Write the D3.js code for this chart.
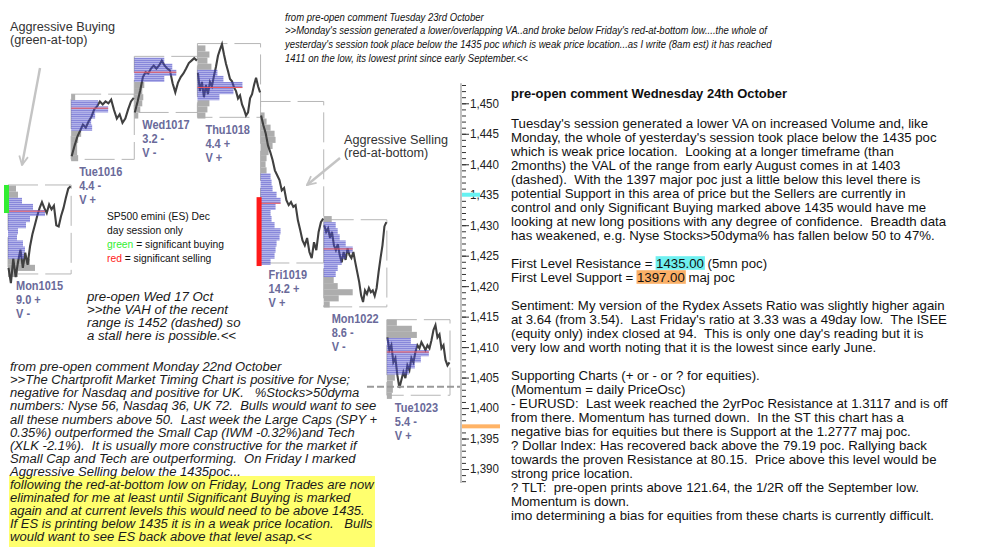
<!DOCTYPE html>
<html><head><meta charset="utf-8">
<script src="https://cdn.jsdelivr.net/npm/d3@7/dist/d3.min.js"></script>
<style>body{margin:0;background:#fff}text{white-space:pre}</style>
</head><body>
<svg id="c" width="999" height="559"></svg>
<script>
// ---------------- DATA ----------------
const days = ["Mon1015","Tue1016","Wed1017","Thu1018","Fri1019","Mon1022","Tue1023"];
const dayRange = ["9.0 +","4.4 -","3.2 -","4.4 +","14.2 +","8.6 -","5.4 -"];
const dayVolume = ["V -","V +","V -","V +","V +","V -","V +"];
const dayHigh = [1436.6,1451.5,1457.7,1459.8,1450.3,1430.9,1414.5];
const dayLow  = [1422.0,1440.8,1448.5,1447.7,1423.8,1416.6,1402.1];
const dayPoc  = [1432.3,1449.2,1455.1,1452.6,1433.6,1426.1,1409.2];
const dayVAH  = [1434,1450,1457,1455,1438,1430,1411];
const dayVAL  = [1425,1446,1454,1451,1424,1422,1406];
// volume profile per day: top price level, then volume per 1-pt level going down
const profTop = [1436,1451,1457,1459,1448,1431,1414];
const profMon1015 = [8,10,14,25,37,22,18,10,9,15,17,16,22,27,10];
const profTue1016 = [4,27,37,24,20,21,10,7,6,6,7];
const profWed1017 = [30,38,42,30,10,8,9,8,6,4];
const profThu1018 = [8,12,10,14,20,26,45,36,22,12,10,8];
const profFri1019 = [4,6,10,14,15,12,8,6,5,6,10,11,12,16,20,15,10,11,14,20,19,16,15,14,10];
const profMon1022 = [8,12,14,16,22,29,22,18,14,12,10,14,29,15,6];
const profTue1023 = [10,25,30,24,30,42,34,28,22,8,6,6,5];
// intraday price traces (evenly spaced through each session)
const pxMon1015 = [1423.0,1420.5,1424.5,1421.5,1424.0,1426.0,1423.0,1425.5,1423.5,1426.5,1428.5,1430.0,1431.5,1432.8,1433.8,1432.8,1432.0,1433.4,1432.6,1433.2,1430.0,1429.8,1431.5,1432.8,1434.5,1436.0,1436.4];
const pxTue1016 = [1441.3,1443.0,1444.5,1445.5,1446.5,1446.0,1447.0,1447.8,1449.0,1449.5,1450.3,1449.8,1450.3,1450.0,1450.6,1448.9,1447.5,1448.2,1446.8,1447.5,1449.0,1450.3,1450.9];
const pxWed1017 = [1448.5,1450.2,1452.1,1454.3,1455.1,1454.9,1455.7,1456.2,1455.7,1456.2,1457.0,1456.2,1455.7,1455.4,1453.3,1451.8,1453.4,1454.3,1454.9,1455.7,1456.6,1457.0,1457.4,1457.0];
const pxThu1018 = [1455.0,1452.0,1453.5,1451.0,1453.0,1451.5,1453.5,1452.8,1454.5,1456.0,1457.8,1458.8,1459.7,1458.0,1456.5,1455.3,1454.0,1453.6,1452.6,1452.0,1450.8,1451.3,1449.8,1449.0,1448.0,1448.5,1450.8,1451.5,1453.0,1454.2,1452.8,1451.8];
const pxFri1019 = [1448.0,1446.4,1445.1,1443.1,1442.0,1440.7,1439.0,1438.2,1437.4,1435.7,1436.1,1434.1,1433.3,1433.8,1433.0,1433.3,1430.8,1429.2,1427.5,1426.7,1427.9,1425.6,1424.6,1427.2,1425.9,1428.9,1430.5,1431.1];
const pxMon1022 = [1430.0,1428.9,1429.5,1427.9,1428.9,1426.7,1425.9,1426.9,1425.1,1423.9,1425.6,1424.3,1426.2,1425.1,1424.6,1425.6,1423.9,1422.3,1420.7,1418.5,1417.4,1419.3,1418.7,1419.7,1419.0,1419.3,1418.4,1419.7,1422.3,1424.6,1426.7,1429.8,1430.5];
const pxTue1023 = [1411.6,1409.5,1410.3,1407.5,1408.2,1405.4,1403.3,1404.6,1405.9,1404.9,1407.0,1406.2,1408.2,1407.5,1409.2,1410.3,1409.8,1410.8,1410.2,1409.5,1410.3,1409.8,1411.1,1412.8,1413.6,1411.6,1412.1,1409.8,1410.3,1407.9,1407.0,1407.5];
const profiles = [profMon1015,profTue1016,profWed1017,profThu1018,profFri1019,profMon1022,profTue1023];
const traces = [pxMon1015,pxTue1016,pxWed1017,pxThu1018,pxFri1019,pxMon1022,pxTue1023];
// significant buying / selling bars
const signalDay = [0,4];
const signalTop = [1436.6,1434.6];
const signalBottom = [1432.0,1423.3];
const signalType = ["buy","sell"];
// key levels
const levelValues = [1435,1397];
const levelNames = ["resistance","support"];
const valDashed = 1403.5;
// axis
const axisMin = 1387.7, axisMax = 1453.3;
const majorTicks = d3.range(1390,1451,5);
const minorTicks = d3.range(1388,1454,1);

// ---------------- TEXT ----------------
const aggBuyLines = ["Aggressive Buying","(green-at-top)"];
const aggSellLines = ["Aggressive Selling","(red-at-bottom)"];
const topLines = [
"from pre-open comment Tuesday 23rd October",
">>Monday's session generated a lower/overlapping VA..and broke below Friday's red-at-bottom low....the whole of",
"yesterday's session took place below the 1435 poc which is weak price location...as I write (8am est) it has reached",
"1411 on the low, its lowest print since early September.<<"];
const legendLines = [["SP500 emini (ES) Dec"],["day session only"],["green"," = significant buying"],["red"," = significant selling"]];
const wedLines = ["pre-open Wed 17 Oct",">>the VAH of the recent","range is 1452 (dashed) so","a stall here is possible.<<"];
const bottomLines = [
"from pre-open comment Monday 22nd October",
">>The Chartprofit Market Timing Chart is positive for Nyse;",
"negative for Nasdaq and positive for UK.   %Stocks>50dyma",
"numbers: Nyse 56, Nasdaq 36, UK 72.  Bulls would want to see",
"all these numbers above 50.  Last week the Large Caps (SPY +",
"0.35%) outperformed the Small Cap (IWM -0.32%)and Tech",
"(XLK -2.1%).  It is usually more constructive for the market if",
"Small Cap and Tech are outperforming.  On Friday I marked",
"Aggressive Selling below the 1435poc...",
"following the red-at-bottom low on Friday, Long Trades are now",
"eliminated for me at least until Significant Buying is marked",
"again and at current levels this would need to be above 1435.",
"If ES is printing below 1435 it is in a weak price location.   Bulls",
"would want to see ES back above that level asap.<<"];
const rightTitle = "pre-open comment Wednesday 24th October";
const rightLines = [
"Tuesday's session generated a lower VA on increased Volume and, like",
"Monday, the whole of yesterday's session took place below the 1435 poc",
"which is weak price location.  Looking at a longer timeframe (than",
"2months) the VAL of the range from early August comes in at 1403",
"(dashed).  With the 1397 major poc just a little below this level there is",
"potential Support in this area of price but the Sellers are currently in",
"control and only Significant Buying marked above 1435 would have me",
"looking at new long positions with any degree of confidence.  Breadth data",
"has weakened, e.g. Nyse Stocks>50dyma% has fallen below 50 to 47%.",
"",
["First Level Resistance = ","1435.00"," (5mn poc)"],
["First Level Support = ","1397.00"," maj poc"],
"",
"Sentiment: My version of the Rydex Assets Ratio was slightly higher again",
"at 3.64 (from 3.54).  Last Friday's ratio at 3.33 was a 49day low.  The ISEE",
"(equity only) index closed at 94.  This is only one day's reading but it is",
"very low and worth noting that it is the lowest since early June.",
"",
"Supporting Charts (+ or - or ? for equities).",
"(Momentum = daily PriceOsc)",
"- EURUSD:  Last week reached the 2yrPoc Resistance at 1.3117 and is off",
"from there. Momentum has turned down.  In the ST this chart has a",
"negative bias for equities but there is Support at the 1.2777 maj poc.",
"? Dollar Index: Has recovered back above the 79.19 poc. Rallying back",
"towards the proven Resistance at 80.15.  Price above this level would be",
"strong price location.",
"? TLT:  pre-open prints above 121.64, the 1/2R off the September low.",
"Momentum is down.",
"imo determining a bias for equities from these charts is currently difficult."];

// ---------------- DRAW ----------------
const svg = d3.select("#c");
const FONT = "'Liberation Sans', Arial, sans-serif";
const y = d3.scaleLinear().domain([1390,1450]).range([469,103.3]);
const xDay = d3.scaleLinear().domain([0,7]).range([8,450]);
const vol = d3.scaleLinear().domain([0,50]).range([0,50]);

const defs = svg.append("defs");
const pat = defs.append("pattern").attr("id","va").attr("patternUnits","userSpaceOnUse").attr("width",4).attr("height",2);
pat.append("rect").attr("width",4).attr("height",1.5).attr("fill","rgba(62,62,196,0.62)");
pat.append("rect").attr("y",1.5).attr("width",4).attr("height",0.5).attr("fill","rgba(120,120,220,0.45)");
defs.append("marker").attr("id","arr").attr("viewBox","0 0 10 10").attr("refX",9).attr("refY",5)
  .attr("markerWidth",11).attr("markerHeight",11).attr("markerUnits","userSpaceOnUse").attr("orient","auto")
  .append("path").attr("d","M1,1 L9,5 L1,9").attr("fill","none").attr("stroke","#c4c4c4").attr("stroke-width",1.6);

// squeeze/stretch a set of lines so the reference line has the given width, keeping the font size
function fitLines(nodes, refIdx, refW){
  const f = refW / nodes[refIdx].getComputedTextLength();
  nodes.forEach(n=>{
    const L = n.getComputedTextLength();
    if(L>0) { n.setAttribute("textLength", L*f); n.setAttribute("lengthAdjust","spacingAndGlyphs"); }
  });
  return f;
}

// yellow highlight background
svg.append("rect").attr("x",9).attr("y",476).attr("width",366).attr("height",71).attr("fill","#ffff6e");

// axis
const axG = svg.append("g").attr("transform","translate(461,0)");
axG.append("line").attr("x1",0).attr("x2",0).attr("y1",y(axisMax)).attr("y2",y(axisMin)).attr("stroke","#9a9a9a").attr("stroke-width",1.2);
axG.append("g").call(d3.axisRight(y).tickValues(minorTicks).tickSize(5).tickFormat(""))
  .call(g=>g.select(".domain").remove()).selectAll("line").attr("stroke","#333").attr("x1",1);
levelNames.forEach((n,i)=>{
  svg.append("rect").attr("x",462).attr("y",y(levelValues[i])-2).attr("width", n==="resistance"?18:38).attr("height",4)
    .attr("fill", n==="resistance"?"#66f2f2":"#ffb366");
});
const maj = axG.append("g").call(d3.axisRight(y).tickValues(majorTicks).tickSize(8).tickPadding(1).tickFormat(d3.format(",")));
maj.select(".domain").remove();
maj.selectAll("line").attr("stroke","#333").attr("x1",1);
maj.selectAll("text").attr("font-family",FONT).attr("font-size",12.3).attr("fill","#222");
fitLines(maj.selectAll("text").nodes(), 0, 29);

// days
const gBox = svg.append("g"), gGray = svg.append("g"), gLine = svg.append("g"), gBlue = svg.append("g"), gPoc = svg.append("g");
days.forEach((d,i)=>{
  const x0 = xDay(i), x1 = xDay(i+1);
  gBox.append("rect").attr("x",x0).attr("y",y(dayHigh[i])).attr("width",x1-x0).attr("height",y(dayLow[i])-y(dayHigh[i]))
    .attr("fill","none").attr("stroke","#b6b6b6").attr("stroke-width",1).attr("stroke-dasharray","30,7");
  const prof = profiles[i];
  prof.forEach((v,k)=>{
    const p = profTop[i]-k;
    const inVA = p<=dayVAH[i] && p>=dayVAL[i];
    (inVA?gBlue:gGray).append("rect").attr("x",x0).attr("y",y(p+0.5)).attr("width",vol(v))
      .attr("height",y(p-0.5)-y(p+0.5)).attr("fill",inVA?"url(#va)":"#adadad");
  });
  const tr = traces[i];
  const xs = d3.scaleLinear().domain([0,tr.length-1]).range([x0+0.5,x1-0.5]);
  gLine.append("path").attr("d",d3.line().x((v,k)=>xs(k)).y(v=>y(v))(tr))
    .attr("fill","none").attr("stroke","#404040").attr("stroke-width",2.1).attr("stroke-linejoin","miter");
  gPoc.append("line").attr("x1",x0).attr("x2",x0+vol(d3.max(prof))).attr("y1",y(dayPoc[i])).attr("y2",y(dayPoc[i]))
    .attr("stroke","#f05a5a").attr("stroke-width",1);
});
signalDay.forEach((d,i)=>{
  svg.append("rect").attr("x",xDay(d)-4).attr("y",y(signalTop[i])).attr("width",5).attr("height",y(signalBottom[i])-y(signalTop[i]))
    .attr("fill",signalType[i]==="buy"?"#33ee33":"#ff1a1a");
});
svg.append("line").attr("x1",367).attr("x2",460).attr("y1",y(valDashed)).attr("y2",y(valDashed))
  .attr("stroke","#9a9a9a").attr("stroke-width",2).attr("stroke-dasharray","7,3");

// day labels
const lab = svg.append("g").attr("font-family",FONT).attr("font-weight","bold").attr("fill","#6a6a9a").attr("font-size",12);
const labNodes = [];
days.forEach((d,i)=>{
  [d, dayRange[i], dayVolume[i]].forEach((t,k)=>{
    labNodes.push(lab.append("text").attr("x",xDay(i)+8).attr("y",y(dayLow[i])+12.5+k*14).attr("dominant-baseline","central").text(t).node());
  });
});
fitLines(labNodes, 0, 47);

// generic text block
function block(lines, x, y0, dy, opts){
  const g = svg.append("g").attr("font-family",FONT).attr("fill",opts.color||"#1a1a1a").attr("font-size",opts.fs)
    .attr("font-style",opts.italic?"italic":"normal").attr("font-weight",opts.bold?"bold":"normal");
  const nodes = lines.map((t,k)=>{
    const tx = g.append("text").attr("x",x).attr("y",y0+k*dy).attr("dominant-baseline","central");
    if(Array.isArray(t)) t.forEach((p,j)=>{ const ts = tx.append("tspan").text(p); if(opts.colorFirst && t.length>1 && j===0) ts.attr("fill",opts.colorFirst(p)); });
    else tx.text(t);
    return tx.node();
  });
  if(opts.scaleFont){
    const f = opts.w / nodes[opts.ref||0].getComputedTextLength();
    g.attr("font-size", opts.fs*f);
  } else fitLines(nodes, opts.ref||0, opts.w);
  return {g, nodes};
}
block(aggBuyLines,10,26.7,13.5,{fs:12,w:105,color:"#333"});
block(aggSellLines,344,140,13.3,{fs:12,w:104,color:"#333"});
block(topLines,285,16.7,13.7,{fs:11.8,italic:true,ref:1,w:482,color:"#111"});
block(wedLines,87,296.7,13.2,{fs:12,italic:true,ref:1,w:141,color:"#1a1a1a"});
block(bottomLines,10,367.3,13.05,{fs:12,italic:true,ref:1,w:340,color:"#1a1a1a"});
block(legendLines,107,216,14.1,{fs:12,ref:0,w:103,color:"#111",scaleFont:true,colorFirst:p=>p==="green"?"#33ee33":"#ff2020"});
block([rightTitle],511,94,14,{fs:12.6,bold:true,w:276,color:"#111"});
const right = block(rightLines,511,123,14,{fs:12.8,ref:0,w:417,color:"#111"});
// highlights behind the level values
rightLines.forEach((ln,k)=>{
  if(!Array.isArray(ln)) return;
  const node = right.nodes[k];
  const ex0 = node.getExtentOfChar(ln[0].length);
  const ex1 = node.getExtentOfChar(ln[0].length+ln[1].length-1);
  const isRes = ln[1].startsWith(String(levelValues[0]));
  right.g.insert("rect","text").attr("x",ex0.x-0.5).attr("y",123+k*14-6.8).attr("width",ex1.x+ex1.width-ex0.x+1.5).attr("height",13.6)
    .attr("fill", isRes?"#6ff0f0":"#fbb067");
});

// arrows
svg.append("line").attr("x1",40).attr("y1",68).attr("x2",22).attr("y2",165).attr("stroke","#c4c4c4").attr("stroke-width",2.4).attr("marker-end","url(#arr)");
svg.append("line").attr("x1",340).attr("y1",158).attr("x2",307).attr("y2",185).attr("stroke","#c4c4c4").attr("stroke-width",2.4).attr("marker-end","url(#arr)");
</script>
</body></html>
